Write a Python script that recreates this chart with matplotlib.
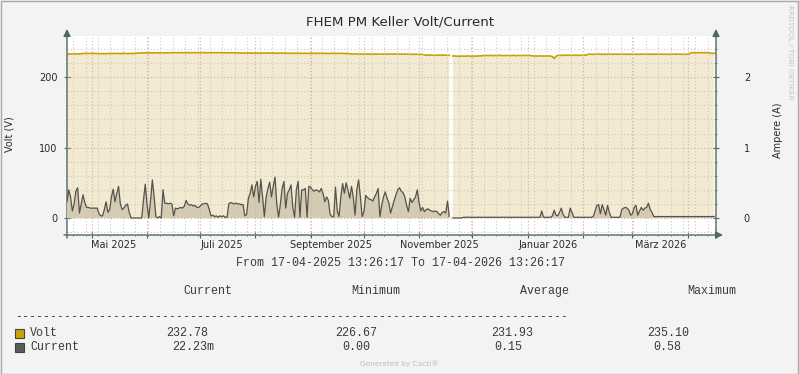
import numpy as np
import pandas as pd
import matplotlib
matplotlib.use("Agg")
import matplotlib.pyplot as plt
import matplotlib.ticker as mticker
from matplotlib.patches import Rectangle

nan = np.nan

# ---------------- data ----------------
start = pd.Timestamp("2025-04-17 13:26:17")
end = pd.Timestamp("2026-04-17 13:26:17")

# current in A, one value per day from 17-04-2025
current = [
    0.23, 0.40, 0.30, 0.10, 0.20, 0.38, 0.43, 0.07, 0.20, 0.33,
    0.22, 0.15, 0.15, 0.14, 0.14, 0.14, 0.14, 0.14, 0.06, 0.03,
    0.03, 0.12, 0.23, 0.08, 0.12, 0.30, 0.41, 0.23, 0.35, 0.45,
    0.20, 0.12, 0.14, 0.18, 0.20, 0.08, 0.00, 0.00, 0.00, 0.00,
    0.00, 0.00, 0.00, 0.25, 0.48, 0.20, 0.00, 0.25, 0.54, 0.30,
    0.02, 0.00, 0.02, 0.00, 0.40, 0.21, 0.21, 0.20, 0.21, 0.20,
    0.03, 0.14, 0.13, 0.14, 0.15, 0.14, 0.17, 0.25, 0.20, 0.18,
    0.19, 0.17, 0.18, 0.15, 0.15, 0.17, 0.20, 0.20, 0.21, 0.20,
    0.12, 0.03, 0.04, 0.02, 0.03, 0.01, 0.03, 0.02, 0.03, 0.01,
    0.01, 0.20, 0.22, 0.21, 0.20, 0.21, 0.20, 0.20, 0.19, 0.19,
    0.03, 0.05, 0.28, 0.35, 0.47, 0.30, 0.45, 0.52, 0.22, 0.55,
    0.30, 0.02, 0.30, 0.42, 0.51, 0.30, 0.45, 0.58, 0.20, 0.01,
    0.20, 0.42, 0.52, 0.14, 0.35, 0.40, 0.47, 0.15, 0.01, 0.40,
    0.52, 0.01, 0.40, 0.40, 0.42, 0.01, 0.45, 0.44, 0.40, 0.38,
    0.40, 0.39, 0.37, 0.42, 0.35, 0.23, 0.30, 0.25, 0.05, 0.02,
    0.02, 0.44, 0.10, 0.02, 0.30, 0.49, 0.35, 0.50, 0.40, 0.28,
    0.45, 0.30, 0.04, 0.40, 0.54, 0.30, 0.02, 0.09, 0.32, 0.29,
    0.27, 0.26, 0.24, 0.30, 0.35, 0.42, 0.02, 0.18, 0.30, 0.37,
    0.28, 0.22, 0.07, 0.16, 0.25, 0.33, 0.40, 0.43, 0.38, 0.36,
    0.30, 0.18, 0.09, 0.28, 0.22, 0.26, 0.30, 0.40, 0.22, 0.10,
    0.15, 0.09, 0.12, 0.13, 0.11, 0.10, 0.09, 0.10, 0.09, 0.06,
    0.04, 0.08, 0.09, 0.07, 0.24, 0.02, nan, 0.00, 0.00, 0.00,
    0.00, 0.00, 0.00, 0.01, 0.01, 0.01, 0.01, 0.01, 0.01, 0.01,
    0.01, 0.01, 0.01, 0.01, 0.01, 0.01, 0.01, 0.01, 0.01, 0.01,
    0.01, 0.01, 0.01, 0.01, 0.01, 0.01, 0.01, 0.01, 0.01, 0.01,
    0.01, 0.01, 0.01, 0.01, 0.01, 0.01, 0.01, 0.01, 0.01, 0.01,
    0.01, 0.01, 0.01, 0.01, 0.01, 0.01, 0.01, 0.10, 0.01, 0.01,
    0.01, 0.01, 0.01, 0.03, 0.11, 0.04, 0.03, 0.08, 0.14, 0.05,
    0.01, 0.01, 0.01, 0.14, 0.08, 0.01, 0.01, 0.01, 0.01, 0.01,
    0.01, 0.01, 0.01, 0.01, 0.01, 0.01, 0.02, 0.10, 0.18, 0.19,
    0.06, 0.19, 0.12, 0.04, 0.18, 0.08, 0.01, 0.01, 0.01, 0.01,
    0.01, 0.01, 0.12, 0.14, 0.15, 0.14, 0.11, 0.04, 0.06, 0.15,
    0.18, 0.04, 0.10, 0.15, 0.11, 0.14, 0.15, 0.21, 0.12, 0.08,
    0.02, 0.02, 0.02, 0.02, 0.02, 0.02, 0.02, 0.02, 0.02, 0.02,
    0.02, 0.02, 0.02, 0.02, 0.02, 0.02, 0.02, 0.02, 0.02, 0.02,
    0.02, 0.02, 0.02, 0.02, 0.02, 0.02, 0.02, 0.02, 0.02, 0.02,
    0.02, 0.02, 0.02, 0.02, 0.022,
]

# voltage in V, one value per day from 17-04-2025
volt = [
    233.0, 233.2, 233.1, 233.3, 233.2, 233.4, 233.2, 233.3, 233.5, 233.8,
    234.0, 233.9, 234.1, 233.8, 234.0, 234.1, 233.9, 233.7, 233.5, 233.6,
    233.7, 233.5, 233.6, 233.8, 234.0, 233.7, 233.9, 233.8, 234.0, 233.7,
    233.9, 233.8, 234.1, 233.8, 233.6, 233.9, 234.0, 233.8, 233.9, 234.2,
    234.6, 234.8, 234.5, 234.7, 234.9, 234.6, 234.8, 234.7, 234.6, 234.9,
    234.7, 234.8, 234.6, 234.9, 234.8, 234.7, 234.9, 234.8, 235.0, 235.0,
    235.1, 235.0, 234.9, 235.1, 235.0, 235.0, 234.9, 235.1, 235.0, 235.1,
    235.0, 234.9, 235.0, 235.1, 235.0, 234.9, 235.0, 235.1, 234.9, 235.0,
    235.1, 235.0, 234.9, 235.0, 235.0, 235.1, 234.9, 235.0, 234.8, 235.0,
    234.9, 235.0, 234.8, 234.9, 234.8, 234.7, 234.8, 234.6, 234.4, 234.5,
    234.3, 234.5, 234.4, 234.6, 234.4, 234.3, 234.5, 234.4, 234.2, 234.4,
    234.5, 234.3, 234.4, 234.6, 234.4, 234.3, 234.5, 234.4, 234.3, 234.2,
    234.4, 234.3, 234.5, 234.3, 234.2, 234.2, 234.0, 234.1, 234.3, 234.1,
    234.0, 234.2, 234.1, 234.0, 234.2, 234.1, 234.0, 234.1, 234.2, 234.0,
    234.1, 234.2, 234.0, 234.1, 234.0, 234.1, 234.0, 233.9, 234.0, 234.1,
    234.0, 233.9, 234.0, 234.1, 233.9, 234.0, 233.8, 233.9, 233.7, 233.6,
    233.3, 233.0, 233.1, 232.9, 233.0, 233.2, 233.0, 232.8, 233.1, 233.0,
    232.9, 233.1, 233.0, 232.8, 233.0, 233.1, 232.9, 233.0, 232.8, 233.0,
    233.2, 233.0, 232.9, 233.1, 233.0, 232.8, 232.9, 233.0, 232.9, 233.1,
    233.0, 232.8, 232.9, 232.7, 232.7, 232.6, 232.8, 232.6, 232.5, 232.7,
    232.5, 231.8, 231.6, 231.4, 231.7, 231.5, 231.3, 231.6, 231.4, 231.5,
    231.3, 231.6, 231.4, 231.5, 231.3, 231.4, nan, 230.2, 230.4, 230.1,
    230.0, 229.8, 230.3, 230.1, 229.9, 230.4, 230.2, 230.0, 230.3, 230.1,
    230.2, 230.4, 230.3, 230.5, 231.0, 230.8, 231.1, 230.9, 231.2, 231.0,
    230.8, 231.1, 230.9, 231.0, 231.2, 230.8, 231.0, 230.9, 231.1, 231.0,
    230.9, 231.2, 231.0, 230.8, 231.1, 230.9, 231.0, 231.2, 230.9, 231.0,
    231.1, 230.8, 230.3, 230.4, 230.2, 230.3, 230.4, 230.1, 230.3, 230.2,
    230.4, 230.3, 230.2, 229.5, 226.67, 229.8, 231.2, 231.4, 231.1, 231.3,
    231.2, 231.5, 231.3, 231.4, 231.2, 231.3, 231.5, 231.2, 231.4, 231.3,
    231.2, 231.4, 231.6, 232.7, 232.9, 232.8, 232.6, 232.9, 232.8, 233.0,
    232.7, 232.8, 232.9, 232.7, 232.8, 233.0, 232.8, 232.6, 232.9, 232.8,
    232.7, 233.0, 232.8, 232.9, 232.7, 232.8, 233.0, 232.9, 232.7, 232.8,
    232.9, 232.8, 232.6, 232.8, 233.0, 232.9, 232.7, 232.8, 232.9, 232.8,
    232.7, 232.9, 232.8, 233.0, 232.8, 232.7, 232.9, 232.8, 232.6, 232.8,
    232.9, 232.7, 232.8, 233.0, 232.8, 232.9, 232.7, 232.8, 232.9, 232.6,
    233.2, 234.9, 235.1, 234.8, 235.0, 234.9, 235.1, 235.0, 234.8, 235.0,
    234.9, 235.0, 234.2, 234.0, 234.1,
]

month_labels = ["Mai 2025", "Juli 2025", "September 2025",
                "November 2025", "Januar 2026", "März 2026"]
month_label_dates = ["2025-05-14", "2025-07-13 18:00", "2025-09-13",
                     "2025-11-12 18:00", "2026-01-13", "2026-03-17 12:00"]

legend_cols = ["Current", "Minimum", "Average", "Maximum"]
volt_stats = ["232.78", "226.67", "231.93", "235.10"]
current_stats = ["22.23m", "0.00", "0.15", "0.58"]

# ---------------- figure ----------------
W, H = 799, 374
BG = "#F3F3F3"
AXC = "#4E6963"
TXT = "#2A2A2A"

fig = plt.figure(figsize=(W / 100, H / 100), dpi=100, facecolor=BG)


def px(x, y):
    return x / W, 1 - y / H


x0, x1, ytop, ybot = 67, 716, 36, 235
ax = fig.add_axes([x0 / W, 1 - ybot / H, (x1 - x0) / W, (ybot - ytop) / H])
ax.set_facecolor("white")
ax2 = ax.twinx()

vlo, vhi = -24.2, 258.7
ax.set_ylim(vlo, vhi)
ax2.set_ylim(vlo / 100, vhi / 100)
ax.set_xlim(start, end)

ct = start + pd.to_timedelta(np.arange(len(current)), unit="D")
vt = start + pd.to_timedelta(np.arange(len(volt)), unit="D")
cur = np.array(current, dtype=float)
vol = np.array(volt, dtype=float)

ax.fill_between(vt, 0, vol, color="#F2EAD1", lw=0, zorder=1)
ax.plot(vt, vol, color="#C9A208", lw=1.2, zorder=3)

ax2.fill_between(ct, 0, cur, color="#D4CBB3", lw=0, zorder=1)
ax2.plot(ct, cur, color="#57524C", lw=0.9, zorder=2)

# grid (drawn over the areas, as rrdtool does)
dots = (0, (1, 2))
minor_c = "#CACACA"
major_c = "#E9A3A3"
ax2.set_axisbelow("line")
ax2.yaxis.set_major_locator(mticker.MultipleLocator(1))
ax2.yaxis.set_minor_locator(mticker.MultipleLocator(0.2))
ax2.grid(which="minor", axis="y", color=minor_c, ls=dots, lw=0.8)
ax2.grid(which="major", axis="y", color=major_c, ls=dots, lw=0.8)

mondays = pd.date_range(start, end, freq="W-MON").normalize()
months = pd.date_range(start, end, freq="MS")
for d in mondays:
    ax2.axvline(d, color=minor_c, ls=dots, lw=0.8, zorder=1.5)
for d in months:
    ax2.axvline(d, color=major_c, ls=dots, lw=0.8, zorder=1.6)

# axes / ticks
for a in (ax, ax2):
    for s in a.spines.values():
        s.set_visible(False)

ax.yaxis.set_major_locator(mticker.MultipleLocator(100))
ax.yaxis.set_minor_locator(mticker.MultipleLocator(20))
ax.tick_params(axis="y", which="major", direction="inout", length=4,
               color=AXC, labelsize=7, labelcolor=TXT, pad=5)
ax.tick_params(axis="y", which="minor", direction="inout", length=2, color=AXC)
ax2.tick_params(axis="y", which="major", direction="inout", length=4,
                color=AXC, labelsize=7, labelcolor=TXT, pad=18)
ax2.tick_params(axis="y", which="minor", direction="inout", length=2, color=AXC)
ax.yaxis.set_major_formatter(mticker.FormatStrFormatter("%d"))
ax2.yaxis.set_major_formatter(mticker.FormatStrFormatter("%d"))

ax.set_xticks(months)
ax.set_xticks(mondays, minor=True)
ax.tick_params(axis="x", which="major", direction="inout", length=4,
               color=AXC, labelbottom=False)
ax.tick_params(axis="x", which="minor", direction="inout", length=2, color=AXC)

for lab, d in zip(month_labels, month_label_dates):
    ax.text(pd.Timestamp(d), -10 / (ybot - ytop), lab,
            transform=ax.get_xaxis_transform(), ha="center", va="center",
            fontsize=7, color=TXT)

arrow = dict(arrowstyle="-|>,head_length=0.6,head_width=0.3", color=AXC,
             lw=1, shrinkA=0, shrinkB=0, mutation_scale=7)
hh = ybot - ytop
ww = x1 - x0
ax.annotate("", xy=(0, 1 + 7 / hh), xytext=(0, -3 / hh),
            xycoords="axes fraction", arrowprops=arrow, annotation_clip=False)
ax.annotate("", xy=(1, 1 + 7 / hh), xytext=(1, -3 / hh),
            xycoords="axes fraction", arrowprops=arrow, annotation_clip=False)
ax.annotate("", xy=(1 + 7 / ww, 0), xytext=(-3 / ww, 0),
            xycoords="axes fraction", arrowprops=arrow, annotation_clip=False)

# ---------------- texts ----------------
fig.text(*px(400, 22), "FHEM PM Keller Volt/Current", ha="center",
         va="center", fontsize=9.6, color=TXT)
fig.text(*px(10, 134), "Volt (V)", rotation=90, ha="center", va="center",
         fontsize=7, color=TXT)
fig.text(*px(778, 130), "Ampere (A)", rotation=90, ha="center", va="center",
         fontsize=7, color=TXT)
fig.text(*px(790, 5), "RRDTOOL / TOBI OETIKER", rotation=270, ha="center",
         va="top", fontsize=5.3, color="#C4C4C4")

mono = dict(family="Liberation Mono", fontsize=8.4, color="#3A3A3A")
fig.text(*px(400, 263), "From 17-04-2025 13:26:17 To 17-04-2026 13:26:17",
         ha="center", va="center", **mono)

for lab, cx in zip(legend_cols, [208, 376, 544, 712]):
    fig.text(*px(cx, 291), lab, ha="center", va="center", **mono)
fig.text(*px(15, 317), "-" * 79, ha="left", va="center", **mono)

fig.patches.append(Rectangle(px(15, 338), 9 / W, 9 / H, transform=fig.transFigure,
                             facecolor="#C9A208", edgecolor="#3F4A3A", lw=0.8))
fig.patches.append(Rectangle(px(15, 352), 9 / W, 9 / H, transform=fig.transFigure,
                             facecolor="#5A5A5A", edgecolor="#2F4A40", lw=0.8))
fig.text(*px(30, 333), "Volt", ha="left", va="center", **mono)
fig.text(*px(30, 347), "Current", ha="left", va="center", **mono)
for s, x in zip(volt_stats, [166, 335, 491.5, 647]):
    fig.text(*px(x, 333), s, ha="left", va="center", **mono)
for s, x in zip(current_stats, [172, 342.5, 494, 653]):
    fig.text(*px(x, 347), s, ha="left", va="center", **mono)

fig.text(*px(399, 364), "Generated by Cacti®", ha="center", va="center",
         fontsize=5.3, color="#BDBDBD")

# image frame
fig.patches.append(Rectangle((0.5 / W, 0.5 / H), 1 - 1.5 / W, 1 - 1.5 / H,
                             transform=fig.transFigure, fill=False,
                             edgecolor="#A9A9A9", lw=1))

fig.savefig("out.png", dpi=100, facecolor=fig.get_facecolor())
